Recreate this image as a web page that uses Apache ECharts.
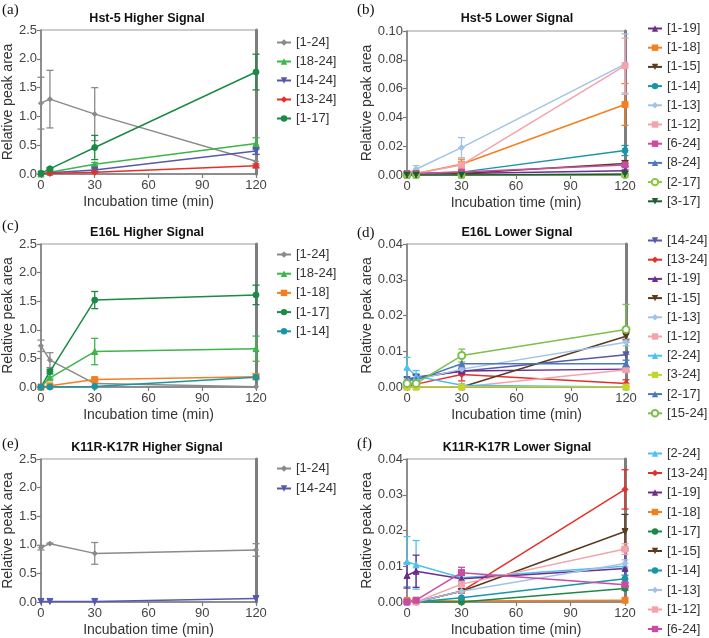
<!DOCTYPE html>
<html><head><meta charset="utf-8">
<script src="https://cdn.jsdelivr.net/npm/echarts@6/dist/echarts.min.js"></script>
<style>html,body{margin:0;padding:0;background:#fff}#c{width:709px;height:638px}</style>
</head><body><div id="c"></div>
<script>
const TIMES = [0, 5, 30, 120];
const X_TICKS = [0, 30, 60, 90, 120];

// (a) Hst-5 Higher Signal
const namesA = ['[1-24]', '[18-24]', '[14-24]', '[13-24]', '[1-17]'];
const valuesA = [
  [1.23, 1.30, 1.04, 0.22],
  [0.00, 0.03, 0.17, 0.53],
  [0.00, 0.02, 0.07, 0.40],
  [0.00, 0.01, 0.03, 0.145],
  [0.01, 0.09, 0.46, 1.77]
];
const sdA = [
  [0.45, 0.50, 0.46, 0.12],
  [0, 0.01, 0.03, 0.10],
  [0, 0, 0.02, 0.06],
  [0, 0, 0.01, 0.03],
  [0, 0.02, 0.21, 0.31]
];

// (b) Hst-5 Lower Signal
const namesB = ['[1-19]', '[1-18]', '[1-15]', '[1-14]', '[1-13]', '[1-12]', '[6-24]', '[8-24]', '[2-17]', '[3-17]'];
const valuesB = [
  [0.001, 0.001, 0.001, 0.003],
  [0.000, 0.001, 0.0075, 0.049],
  [0.0005, 0.0005, 0.001, 0.008],
  [0.001, 0.001, 0.002, 0.017],
  [0.001, 0.004, 0.019, 0.077],
  [0.0005, 0.001, 0.007, 0.076],
  [0.001, 0.001, 0.002, 0.007],
  [0, 0, 0, 0.0005],
  [0, 0, 0, 0],
  [0, 0, 0, 0.0005]
];
const sdB = [
  [0, 0, 0, 0.0005],
  [0, 0, 0.0035, 0.0145],
  [0, 0, 0, 0.002],
  [0, 0, 0, 0.0035],
  [0, 0.0025, 0.007, 0.021],
  [0, 0, 0.002, 0.019],
  [0, 0, 0, 0.001],
  [0, 0, 0, 0],
  [0, 0, 0, 0],
  [0, 0, 0, 0]
];

// (c) E16L Higher Signal
const namesC = ['[1-24]', '[18-24]', '[1-18]', '[1-17]', '[1-14]'];
const valuesC = [
  [0.72, 0.47, 0.06, 0.005],
  [0.00, 0.16, 0.62, 0.67],
  [0.00, 0.02, 0.13, 0.18],
  [0.00, 0.27, 1.52, 1.61],
  [0.00, 0.00, 0.01, 0.17]
];
const sdC = [
  [0.10, 0.13, 0, 0],
  [0, 0.02, 0.23, 0.22],
  [0, 0, 0.02, 0.05],
  [0, 0.04, 0.15, 0.17],
  [0, 0, 0, 0]
];

// (d) E16L Lower Signal
const namesD = ['[14-24]', '[13-24]', '[1-19]', '[1-15]', '[1-13]', '[1-12]', '[2-24]', '[3-24]', '[2-17]', '[15-24]'];
const valuesD = [
  [0.0021, 0.0028, 0.0044, 0.0090],
  [0.0003, 0.0008, 0.0035, 0.0010],
  [0.0015, 0.0025, 0.0045, 0.0050],
  [0.0000, 0.0000, 0.0000, 0.0142],
  [0.0020, 0.0020, 0.0050, 0.0125],
  [0.0000, 0.0000, 0.0000, 0.0048],
  [0.0055, 0.0030, 0.0005, 0.0000],
  [0.0000, 0.0000, 0.0000, 0.0000],
  [0.0020, 0.0020, 0.0065, 0.0065],
  [0.0010, 0.0010, 0.0088, 0.0161]
];
const sdD = [
  [0, 0.0005, 0.0005, 0.0035],
  [0, 0.0005, 0.0018, 0.0010],
  [0, 0.0010, 0.0005, 0.0005],
  [0, 0, 0, 0.0010],
  [0, 0, 0, 0.0010],
  [0, 0, 0, 0.0005],
  [0.0028, 0.0016, 0, 0],
  [0, 0, 0, 0],
  [0, 0, 0, 0.0010],
  [0, 0, 0.0018, 0.0070]
];

// (e) K11R-K17R Higher Signal
const namesE = ['[1-24]', '[14-24]'];
const valuesE = [
  [0.95, 1.02, 0.85, 0.91],
  [0.01, 0.01, 0.01, 0.06]
];
const sdE = [
  [0.04, 0.01, 0.19, 0.11],
  [0, 0, 0, 0]
];

// (f) K11R-K17R Lower Signal
const namesF = ['[2-24]', '[13-24]', '[1-19]', '[1-18]', '[1-17]', '[1-15]', '[1-14]', '[1-13]', '[1-12]', '[6-24]'];
const valuesF = [
  [0.0113, 0.0104, 0.0068, 0.0100],
  [0.0000, 0.0000, 0.0030, 0.0315],
  [0.0074, 0.0086, 0.0065, 0.0094],
  [0.0004, 0.0004, 0.0003, 0.0005],
  [0.0000, 0.0000, 0.0000, 0.0038],
  [0.0000, 0.0000, 0.0030, 0.0197],
  [0.0000, 0.0000, 0.0012, 0.0065],
  [0.0000, 0.0000, 0.0030, 0.0108],
  [0.0000, 0.0000, 0.0050, 0.0148],
  [0.0000, 0.0005, 0.0082, 0.0048]
];
const sdF = [
  [0.0070, 0.0068, 0.0022, 0.0055],
  [0, 0, 0.0005, 0.0055],
  [0.0035, 0.0045, 0.0010, 0.0050],
  [0, 0, 0, 0],
  [0, 0, 0, 0.0005],
  [0, 0, 0, 0.0048],
  [0, 0, 0, 0.0010],
  [0, 0, 0, 0.0010],
  [0, 0, 0, 0.0015],
  [0, 0, 0.0015, 0.0005]
];

const titles = ['Hst-5 Higher Signal', 'Hst-5 Lower Signal', 'E16L Higher Signal', 'E16L Lower Signal', 'K11R-K17R Higher Signal', 'K11R-K17R Lower Signal'];
const panelLabels = ['(a)', '(b)', '(c)', '(d)', '(e)', '(f)'];
const Y_TICKS_HIGH = [0, 0.5, 1.0, 1.5, 2.0, 2.5];
const Y_TICKS_B = [0, 0.02, 0.04, 0.06, 0.08, 0.10];
const Y_TICKS_LOW = [0, 0.01, 0.02, 0.03, 0.04];

// ---------- styles ----------
const DOWN = 'path://M0,0 L10,0 L5,9 Z';
const STYLE = {
  '[1-24]': { color: '#8a8a8a', symbol: 'diamond', size: 5 },
  '[18-24]': { color: '#3db54b', symbol: 'triangle', size: 6 },
  '[14-24]': { color: '#5659ad', symbol: DOWN, size: 6 },
  '[13-24]': { color: '#e3302a', symbol: 'diamond', size: 6 },
  '[1-17]': { color: '#1b8a45', symbol: 'circle', size: 6 },
  '[1-18]': { color: '#f47f20', symbol: 'rect', size: 6 },
  '[1-14]': { color: '#1996a6', symbol: 'circle', size: 6 },
  '[1-19]': { color: '#6b2d8e', symbol: 'triangle', size: 6 },
  '[1-15]': { color: '#5b3a1e', symbol: DOWN, size: 6 },
  '[1-13]': { color: '#a3c3e6', symbol: 'diamond', size: 6 },
  '[1-12]': { color: '#f4a3ab', symbol: 'rect', size: 6 },
  '[6-24]': { color: '#c94ca3', symbol: 'rect', size: 6 },
  '[8-24]': { color: '#4a78be', symbol: 'triangle', size: 6 },
  '[2-17]': { color: '#8dc63f', symbol: 'emptyCircle', size: 6 },
  '[3-17]': { color: '#1e5c30', symbol: DOWN, size: 6 },
  '[2-24]': { color: '#4dc3ec', symbol: 'triangle', size: 6 },
  '[3-24]': { color: '#c3d62d', symbol: 'rect', size: 6 },
  '[15-24]': { color: '#7cc04a', symbol: 'emptyCircle', size: 7 }
};
const OVERRIDE = [{}, {}, {}, { '[2-17]': { color: '#4a78be', symbol: 'triangle', size: 6 } }, {}, {}];

const FONT = '"Liberation Sans", Arial, Helvetica, sans-serif';
const panels = [
  { names: namesA, values: valuesA, sd: sdA, ticks: Y_TICKS_HIGH, dec: 1 },
  { names: namesB, values: valuesB, sd: sdB, ticks: Y_TICKS_B, dec: 2 },
  { names: namesC, values: valuesC, sd: sdC, ticks: Y_TICKS_HIGH, dec: 1 },
  { names: namesD, values: valuesD, sd: sdD, ticks: Y_TICKS_LOW, dec: 2 },
  { names: namesE, values: valuesE, sd: sdE, ticks: Y_TICKS_HIGH, dec: 1 },
  { names: namesF, values: valuesF, sd: sdF, ticks: Y_TICKS_LOW, dec: 2 }
];
const layouts = [
  { grid: { left: 39, top: 30, width: 217, height: 144 }, legend: { left: 276, top: 36, gap: 6 }, tx: 147, ty: 19, lx: 2, ly: 10, nameGap: 24 },
  { grid: { left: 407, top: 31, width: 218, height: 144 }, legend: { left: 647, top: 22, gap: 6.2 }, tx: 517, ty: 19, lx: 357, ly: 10, nameGap: 30 },
  { grid: { left: 39, top: 244, width: 217, height: 143 }, legend: { left: 276, top: 248, gap: 6.2 }, tx: 147, ty: 233, lx: 2, ly: 226, nameGap: 24 },
  { grid: { left: 407, top: 244, width: 219, height: 143 }, legend: { left: 647, top: 234, gap: 6.2 }, tx: 517, ty: 233, lx: 357, ly: 233, nameGap: 30 },
  { grid: { left: 39, top: 459, width: 217, height: 144 }, legend: { left: 276, top: 462, gap: 7 }, tx: 147, ty: 448, lx: 2, ly: 444, nameGap: 24 },
  { grid: { left: 407, top: 459, width: 218, height: 144 }, legend: { left: 647, top: 447, gap: 6.5 }, tx: 517, ty: 448, lx: 357, ly: 444, nameGap: 30 }
];

const AX = '#7a7a7a';
const grid = [], xAxis = [], yAxis = [], legend = [], series = [], graphic = [];

panels.forEach((pn, p) => {
  const L = layouts[p];
  const ymax = pn.ticks[pn.ticks.length - 1];
  const yint = pn.ticks[1] - pn.ticks[0];
  grid.push(Object.assign({ show: true, borderColor: '#9a9a9a', borderWidth: 1, backgroundColor: 'transparent' }, L.grid));
  xAxis.push({
    type: 'value', gridIndex: p, min: X_TICKS[0], max: X_TICKS[X_TICKS.length - 1], interval: X_TICKS[1] - X_TICKS[0],
    name: 'Incubation time (min)', nameLocation: 'middle', nameGap: 21,
    nameTextStyle: { fontFamily: FONT, fontSize: 14, color: '#333' },
    axisLine: { onZero: false, lineStyle: { color: AX, width: 1.5 } },
    axisTick: { show: true, length: 4, lineStyle: { color: AX, width: 1.2 } },
    axisLabel: { fontFamily: FONT, fontSize: 13, color: '#444', margin: 5 },
    splitLine: { show: false }
  });
  yAxis.push({
    type: 'value', gridIndex: p, min: 0, max: ymax, interval: yint,
    name: 'Relative peak area', nameLocation: 'middle', nameGap: L.nameGap,
    nameTextStyle: { fontFamily: FONT, fontSize: 14, color: '#333' },
    axisLine: { show: true, onZero: false, lineStyle: { color: AX, width: 1.5 } },
    axisTick: { show: true, length: 4, lineStyle: { color: AX, width: 1.2 } },
    axisLabel: { fontFamily: FONT, fontSize: 13, color: '#444', margin: 4, formatter: v => v.toFixed(pn.dec) },
    splitLine: { show: false }
  });
  yAxis.push({
    type: 'value', gridIndex: p, position: 'right', min: 0, max: ymax, interval: yint,
    axisLine: { show: true, onZero: false, lineStyle: { color: '#7e7e7e', width: 3 } },
    axisTick: { show: false }, axisLabel: { show: false }, splitLine: { show: false }
  });

  const legendNames = [];
  pn.names.forEach((nm, i) => {
    const st = Object.assign({}, STYLE[nm], OVERRIDE[p][nm] || {});
    const sname = nm + '|' + p;
    legendNames.push(sname);
    const errData = [];
    TIMES.forEach((t, j) => {
      const s = pn.sd[i][j];
      if (s > 0) errData.push([t, Math.max(0, pn.values[i][j] - s), pn.values[i][j] + s]);
    });
    if (errData.length) {
      series.push({
        type: 'custom', xAxisIndex: p, yAxisIndex: 2 * p, silent: true, z: 2,
        encode: { x: 0, y: [1, 2] },
        data: errData,
        renderItem: (params, api) => {
          const a = api.coord([api.value(0), api.value(1)]);
          const b = api.coord([api.value(0), api.value(2)]);
          const w = 3.5;
          const ls = { stroke: st.color, lineWidth: 1.3 };
          return {
            type: 'group', children: [
              { type: 'line', shape: { x1: a[0], y1: a[1], x2: b[0], y2: b[1] }, style: ls },
              { type: 'line', shape: { x1: a[0] - w, y1: a[1], x2: a[0] + w, y2: a[1] }, style: ls },
              { type: 'line', shape: { x1: b[0] - w, y1: b[1], x2: b[0] + w, y2: b[1] }, style: ls }
            ]
          };
        }
      });
    }
    series.push({
      type: 'line', name: sname, xAxisIndex: p, yAxisIndex: 2 * p, z: 3,
      data: TIMES.map((t, j) => [t, pn.values[i][j]]),
      symbol: st.symbol, symbolSize: st.size, showAllSymbol: true,
      itemStyle: { color: st.color, borderColor: st.color },
      lineStyle: { color: st.color, width: 1.5 },
      emphasis: { disabled: true }
    });
  });

  legend.push({
    data: legendNames, orient: 'vertical', left: L.legend.left, top: L.legend.top,
    padding: 0, itemWidth: 14, itemHeight: 8, itemGap: L.legend.gap, selectedMode: false,
    formatter: n => n.split('|')[0],
    textStyle: { fontFamily: FONT, fontSize: 13, color: '#333' }
  });

  graphic.push({
    type: 'text', x: L.tx, y: L.ty, silent: true,
    style: { text: titles[p], font: 'bold 12.5px ' + FONT, fill: '#111', align: 'center', verticalAlign: 'middle' }
  });
  graphic.push({
    type: 'text', x: L.lx, y: L.ly, silent: true,
    style: { text: panelLabels[p], font: '15px "Liberation Serif", "DejaVu Serif", serif', fill: '#111', align: 'left', verticalAlign: 'middle' }
  });
});

const chart = echarts.init(document.getElementById('c'), null, { renderer: 'canvas' });
chart.setOption({
  animation: false,
  backgroundColor: '#fff',
  grid, xAxis, yAxis, legend, series, graphic
});
</script>
</body></html>
